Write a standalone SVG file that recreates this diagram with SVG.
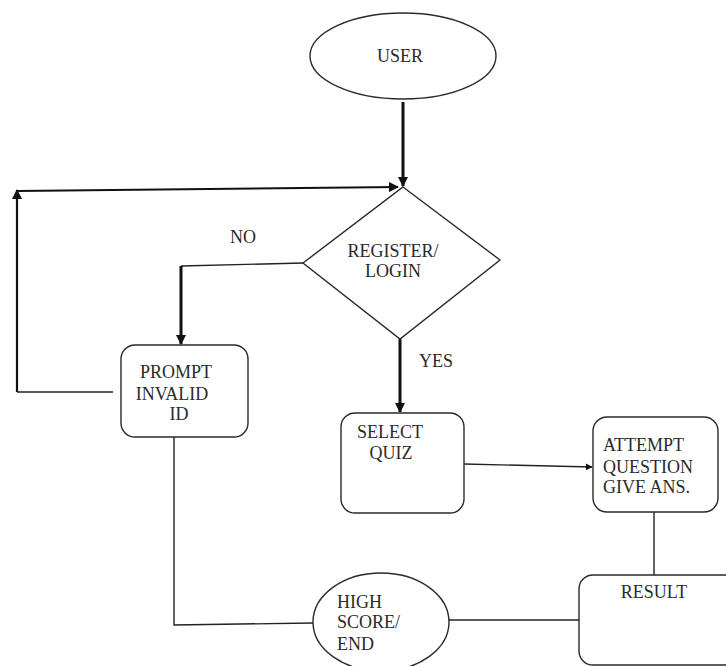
<svg xmlns="http://www.w3.org/2000/svg" width="726" height="666" viewBox="0 0 726 666">
<style>
.s{fill:#fff;stroke:#2a2a2a;stroke-width:1.4}
.c{fill:none;stroke:#222;stroke-width:1.4}
.t{fill:none;stroke:#111;stroke-width:3}
.m{fill:none;stroke:#111;stroke-width:2.2}
text{font-family:"Liberation Serif","Times New Roman",serif;font-size:18px;fill:#2a2a2a}
</style>
<defs>
<marker id="ah" viewBox="0 0 10 10" refX="9" refY="5" markerWidth="10" markerHeight="10" markerUnits="userSpaceOnUse" orient="auto">
<path d="M0,0 L10,5 L0,10 z" fill="#111"/>
</marker>
<marker id="ahs" viewBox="0 0 10 10" refX="9" refY="5" markerWidth="7" markerHeight="7" markerUnits="userSpaceOnUse" orient="auto">
<path d="M0,0 L10,5 L0,10 z" fill="#111"/>
</marker>
</defs>
<rect width="726" height="666" fill="#fff"/>
<g id="connectors">
<line class="t" x1="403" y1="102" x2="403" y2="186" marker-end="url(#ah)"/>
<path class="m" d="M17,392 L17,190" marker-end="url(#ah)"/>
<path class="m" d="M17,191 L398,187" marker-end="url(#ah)"/>
<line class="c" x1="17" y1="392" x2="113" y2="392"/>
<path class="c" d="M303,263 L181,266"/>
<path class="t" d="M181,266 L181,344" marker-end="url(#ah)"/>
<path class="t" d="M400,339 L400,412" marker-end="url(#ah)"/>
<path class="c" d="M464,464 L592,467" marker-end="url(#ahs)"/>
<line class="c" x1="654" y1="512" x2="654" y2="575"/>
<line class="c" x1="449" y1="620" x2="579" y2="620"/>
<path class="c" d="M174,437 L174,625 L313,623"/>
</g>
<g id="user">
<ellipse class="s" cx="403" cy="56" rx="93" ry="43"/>
<text x="400" y="62" text-anchor="middle">USER</text>
</g>
<g id="register">
<polygon class="s" points="403,187 500,260 400,339 303,263"/>
<text x="393" y="257" text-anchor="middle">REGISTER/</text>
<text x="393" y="277" text-anchor="middle">LOGIN</text>
</g>
<g id="labels">
<text x="243" y="243" text-anchor="middle">NO</text>
<text x="436" y="367" text-anchor="middle">YES</text>
</g>
<g id="prompt">
<rect class="s" x="121" y="345" width="127" height="92" rx="14"/>
<text x="176" y="378" text-anchor="middle">PROMPT</text>
<text x="172" y="400" text-anchor="middle">INVALID</text>
<text x="179" y="420" text-anchor="middle">ID</text>
</g>
<g id="select">
<rect class="s" x="341" y="413" width="123" height="100" rx="14"/>
<text x="390" y="438" text-anchor="middle">SELECT</text>
<text x="391" y="459" text-anchor="middle">QUIZ</text>
</g>
<g id="attempt">
<rect class="s" x="593" y="417" width="125" height="95" rx="14"/>
<text x="603" y="451">ATTEMPT</text>
<text x="603" y="473">QUESTION</text>
<text x="603" y="493">GIVE ANS.</text>
</g>
<g id="result">
<rect class="s" x="579" y="575" width="160" height="90" rx="14"/>
<text x="654" y="598" text-anchor="middle">RESULT</text>
</g>
<g id="highscore">
<ellipse class="s" cx="381" cy="622" rx="68" ry="49"/>
<text x="337" y="608">HIGH</text>
<text x="337" y="628">SCORE/</text>
<text x="337" y="650">END</text>
</g>
</svg>
